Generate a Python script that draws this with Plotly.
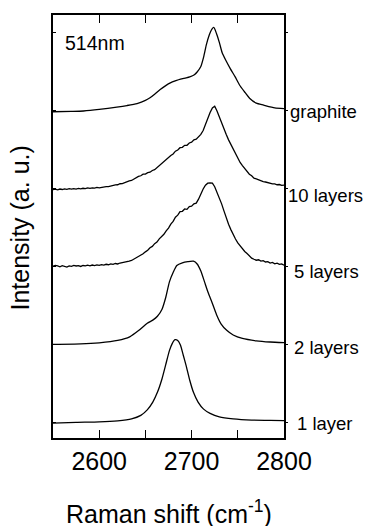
import plotly.graph_objects as go

# Raman shift sampling grid of the noisier few-layer spectra (cm^-1)
shift_fine = [2550 + 2.5 * i for i in range(101)]

# 1 layer
shift_1 = [2550, 2575, 2600, 2620, 2635, 2645, 2652, 2658, 2663, 2668, 2672, 2676,
           2679, 2682, 2685, 2688, 2691, 2694, 2698, 2702, 2707, 2713, 2720, 2730,
           2745, 2765, 2785, 2800]
int_1 = [-0.01, 0.0, 0.006, 0.02, 0.045, 0.09, 0.16, 0.26, 0.385, 0.56, 0.74, 0.92,
         1.01, 1.06, 1.05, 0.99, 0.86, 0.73, 0.54, 0.385, 0.26, 0.17, 0.115, 0.07,
         0.045, 0.03, 0.026, 0.022]

# 2 layers
shift_2 = [2550, 2580, 2600, 2620, 2633, 2643, 2652, 2658, 2663, 2668, 2672, 2676,
           2680, 2684, 2690, 2696, 2702, 2706, 2710, 2714, 2718, 2722, 2727, 2732,
           2738, 2745, 2755, 2770, 2785, 2800]
int_2 = [0.0, 0.006, 0.02, 0.05, 0.096, 0.18, 0.27, 0.31, 0.36, 0.45, 0.6, 0.8,
         0.92, 1.01, 1.045, 1.06, 1.065, 1.03, 0.94, 0.8, 0.66, 0.54, 0.38, 0.26,
         0.18, 0.12, 0.075, 0.045, 0.03, 0.022]

# 5 layers
int_5 = [0.0, 0.012, 0.004, -0.006, 0.008, 0.002, -0.01, 0.006, 0.0, 0.011,
         0.004, 0.009, -0.002, 0.01, 0.005, 0.014, 0.006, 0.016, 0.009, 0.018,
         0.012, 0.022, 0.016, 0.026, 0.02, 0.031, 0.025, 0.036, 0.03, 0.042,
         0.046, 0.05, 0.058, 0.066, 0.075, 0.092, 0.1, 0.125, 0.142, 0.16,
         0.185, 0.205, 0.238, 0.255, 0.29, 0.31, 0.352, 0.378, 0.41, 0.455,
         0.49, 0.54, 0.575, 0.63, 0.655, 0.7, 0.705, 0.735, 0.73, 0.765,
         0.77, 0.8, 0.81, 0.86, 0.93, 0.99, 1.04, 1.065, 1.07, 1.065,
         1.02, 0.95, 0.88, 0.8, 0.71, 0.61, 0.54, 0.47, 0.405, 0.35,
         0.3, 0.26, 0.225, 0.19, 0.165, 0.13, 0.105, 0.09, 0.078, 0.084,
         0.066, 0.072, 0.055, 0.06, 0.042, 0.05, 0.032, 0.04, 0.024, 0.03,
         0.015]

# 10 layers
int_10 = [-0.018, -0.012, -0.02, -0.01, -0.016, -0.008, -0.014, -0.006, -0.012, -0.004,
          -0.01, -0.002, -0.008, 0.0, -0.004, 0.004, -0.002, 0.006, 0.002, 0.01,
          0.006, 0.014, 0.012, 0.022, 0.02, 0.03, 0.032, 0.044, 0.045, 0.058,
          0.06, 0.074, 0.078, 0.094, 0.1, 0.12, 0.13, 0.152, 0.16, 0.18,
          0.182, 0.2, 0.205, 0.228, 0.238, 0.265, 0.285, 0.315, 0.335, 0.37,
          0.39, 0.42, 0.44, 0.475, 0.49, 0.52, 0.525, 0.55, 0.55, 0.58,
          0.59, 0.62, 0.63, 0.66, 0.69, 0.74, 0.82, 0.9, 0.97, 1.03,
          1.05, 0.99, 0.91, 0.83, 0.76, 0.69, 0.62, 0.56, 0.52, 0.45,
          0.39, 0.33, 0.29, 0.25, 0.22, 0.18, 0.16, 0.13, 0.12, 0.105,
          0.1, 0.085, 0.08, 0.07, 0.068, 0.055, 0.055, 0.045, 0.048, 0.038,
          0.04]

# graphite
shift_g = [2550, 2570, 2583, 2600, 2619, 2630, 2641, 2650, 2655, 2660, 2666, 2672,
           2677, 2683, 2688, 2694, 2698, 2703, 2706, 2710, 2713, 2716, 2719, 2722,
           2724, 2727, 2730, 2733, 2737, 2742, 2747, 2752, 2757, 2763, 2770, 2778,
           2790, 2800]
int_g = [-0.02, -0.015, -0.01, 0.01, 0.04, 0.06, 0.085, 0.125, 0.16, 0.205, 0.265, 0.315,
         0.35, 0.378, 0.398, 0.415, 0.428, 0.455, 0.49, 0.56, 0.68, 0.84, 0.96, 1.04,
         1.06, 0.98, 0.87, 0.74, 0.64, 0.53, 0.43, 0.32, 0.24, 0.15, 0.09, 0.065,
         0.03, 0.02]

labels = ["1 layer", "2 layers", "5 layers", "10 layers", "graphite"]
offsets = [0, 1, 2, 3, 4]
spectra = [(shift_1, int_1), (shift_2, int_2), (shift_fine, int_5),
           (shift_fine, int_10), (shift_g, int_g)]
smooth = [True, True, False, False, True]
label_dx = [11, 8, 8, 2, 4]      # label left edge, px right of the frame
label_dy = [-1.5, -3.5, -5, -7, -1.5]

FONT = "Arial, Liberation Sans, sans-serif"

fig = go.Figure()
for (xs, ys), off, sm in zip(spectra, offsets, smooth):
    fig.add_trace(go.Scatter(
        x=xs, y=[v + off for v in ys], mode="lines",
        line=dict(color="black", width=1.3,
                  shape="spline" if sm else "linear", smoothing=0.6),
        showlegend=False, hoverinfo="skip"))

# invisible trace carrying the right-hand tick axis
fig.add_trace(go.Scatter(x=[2550], y=[0], yaxis="y2", mode="markers",
                         marker=dict(opacity=0), showlegend=False,
                         hoverinfo="skip"))

for lab, off, dx, dy in zip(labels, offsets, label_dx, label_dy):
    fig.add_annotation(text=lab, x=1, xref="paper", y=off, yref="y",
                       xanchor="left", yanchor="middle", xshift=dx, yshift=dy,
                       showarrow=False, font=dict(family=FONT, size=18.5, color="black"))

fig.add_annotation(text="514nm", x=0, xref="paper", y=1, yref="paper",
                   showarrow=False, xanchor="left", yanchor="middle",
                   xshift=10, yshift=-28,
                   font=dict(family=FONT, size=19.5, color="black"))

fig.add_annotation(text="Raman shift (cm<sup>-1</sup>)", x=0.5, xref="paper",
                   y=0, yref="paper", yshift=-74, xanchor="center", yanchor="middle",
                   showarrow=False, font=dict(family=FONT, size=25, color="black"))

fig.add_annotation(text="Intensity (a. u.)", x=0, xref="paper", xshift=-34,
                   y=0.5, yref="paper", yshift=-2, textangle=-90,
                   xanchor="center", yanchor="middle", showarrow=False,
                   font=dict(family=FONT, size=25, color="black"))

yr = [-0.2, 5.22]
fig.update_layout(
    width=370, height=526,
    margin=dict(l=53, r=86, t=15, b=88),
    paper_bgcolor="white", plot_bgcolor="white",
    font=dict(family=FONT, color="black"),
    xaxis=dict(range=[2550, 2800], tickvals=[2600, 2700, 2800],
               ticks="inside", ticklen=8, tickwidth=1.3, tickcolor="black",
               minor=dict(tickvals=[2650, 2750], ticks="inside", ticklen=4,
                          tickwidth=1.3, tickcolor="black"),
               showline=True, linecolor="black", linewidth=1.6, mirror="allticks",
               showgrid=False, zeroline=False,
               tickfont=dict(family=FONT, size=25, color="black")),
    yaxis=dict(range=yr, tickvals=offsets + [5], ticks="inside", ticklen=3,
               tickwidth=1.2, tickcolor="black", showticklabels=False,
               showline=True, linecolor="black", linewidth=1.6, mirror=True,
               showgrid=False, zeroline=False),
    yaxis2=dict(range=yr, overlaying="y", side="right", anchor="x",
                tickvals=offsets + [5], ticks="outside", ticklen=3,
                tickwidth=1.2, tickcolor="black", showticklabels=False,
                showline=False, showgrid=False, zeroline=False),
)

fig.write_html("out.html")
